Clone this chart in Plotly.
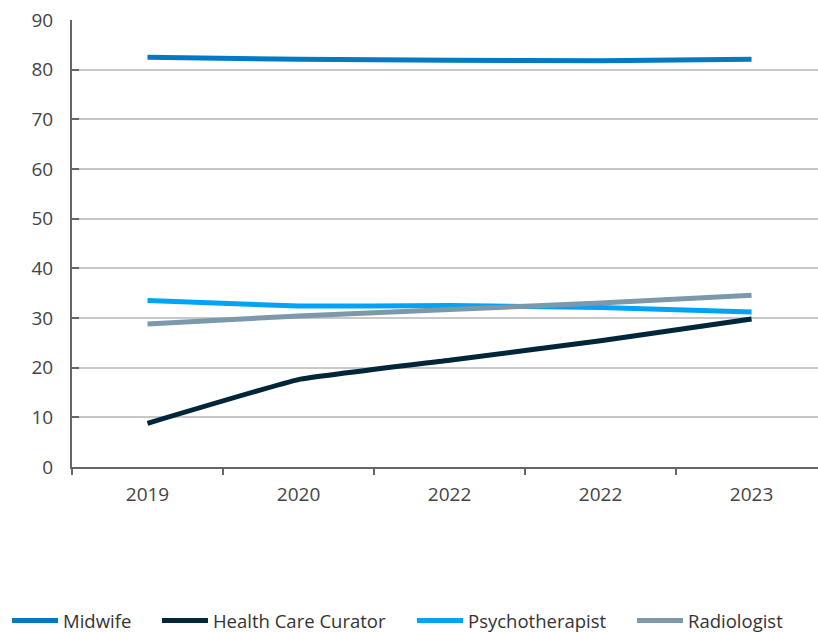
import plotly.graph_objects as go

categories = ["2019", "2020", "2022", "2022", "2023"]
midwife = [82.5, 82.1, 81.9, 81.8, 82.1]
curator = [8.8, 17.6, 21.5, 25.4, 29.8]
psycho = [33.5, 32.4, 32.5, 32.1, 31.2]
radio = [28.8, 30.4, 31.7, 33.0, 34.6]

series = [
    ("Midwife", midwife, "#007BC2"),
    ("Health Care Curator", curator, "#012639"),
    ("Psychotherapist", psycho, "#00A3F5"),
    ("Radiologist", radio, "#7B99AB"),
]

legend_ids = ["legend", "legend2", "legend3", "legend4"]
legend_x = [-0.0871, 0.1139, 0.4558, 0.7507]

xs = list(range(len(categories)))
fig = go.Figure()
for (name, vals, col), lid in zip(series, legend_ids):
    fig.add_trace(go.Scatter(x=xs, y=vals, name=name, mode="lines", legend=lid,
                             line=dict(color=col, width=5, shape="spline", smoothing=0.3)))

legend_style = dict(orientation="h", xanchor="left", yref="container", y=0.0174, yanchor="middle",
                    itemwidth=46,
                    font=dict(size=18.5, color="#333333"), bgcolor="rgba(0,0,0,0)")
legends = {lid: dict(x=lx, **legend_style) for lid, lx in zip(legend_ids, legend_x)}

fig.update_layout(
    width=818, height=632,
    margin=dict(l=72, r=0, t=20, b=165),
    paper_bgcolor="white", plot_bgcolor="white",
    font=dict(family="Open Sans", color="#444444", size=18),
    showlegend=True,
    xaxis=dict(range=[-0.5, 4.44], tickvals=xs, ticktext=categories, ticks="",
               showgrid=False, zeroline=False, showline=True, linecolor="#666666", linewidth=2,
               minor=dict(tick0=-0.5, dtick=1, ticks="outside", ticklen=6, tickwidth=2, tickcolor="#666666"),
               tickfont=dict(size=19, color="#444444"), ticklabelstandoff=9),
    yaxis=dict(range=[0, 90], dtick=10, ticks="inside", ticklen=7, tickwidth=2, tickcolor="#666666",
               showgrid=True, gridcolor="#C8C8C8", gridwidth=2, zeroline=False,
               showline=True, linecolor="#666666", linewidth=2,
               tickfont=dict(size=19, color="#444444"), ticklabelstandoff=13),
    **legends,
)

fig.write_html("out.html", config={"displayModeBar": False},
               post_script="document.body.style.margin='0';document.body.style.overflow='hidden';")
